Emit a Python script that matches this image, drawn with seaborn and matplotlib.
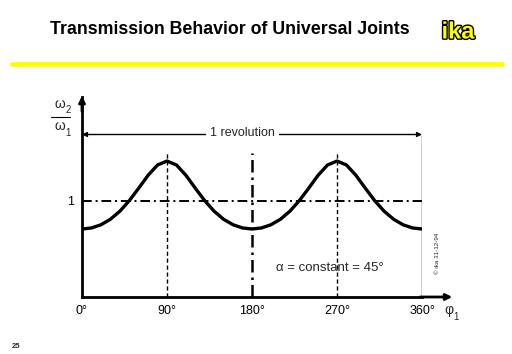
import matplotlib
matplotlib.use("Agg")
import matplotlib.pyplot as plt
import matplotlib.patheffects as pe
import seaborn as sns
import pandas as pd

# shaft angle phi_1 in degrees and read-off speed ratio omega_2 / omega_1
PHI_DEG = [0, 10, 20, 30, 40, 50, 60, 70, 80, 90, 100, 110, 120, 130, 140, 150, 160, 170, 180,
           190, 200, 210, 220, 230, 240, 250, 260, 270, 280, 290, 300, 310, 320, 330, 340, 350, 360]
RATIO = [0.707, 0.718, 0.751, 0.808, 0.891, 1.001, 1.131, 1.266, 1.373, 1.414, 1.373, 1.266,
         1.131, 1.001, 0.891, 0.808, 0.751, 0.718, 0.707, 0.718, 0.751, 0.808, 0.891, 1.001,
         1.131, 1.266, 1.373, 1.414, 1.373, 1.266, 1.131, 1.001, 0.891, 0.808, 0.751, 0.718, 0.707]
X_TICKS = [0, 90, 180, 270, 360]
X_TICK_LABELS = ["0°", "90°", "180°", "270°", "360°"]
REVOLUTION_LEVEL = 1.69
GUIDE_TOP = 1.5

sns.set_theme(style="white")
plt.rcParams["font.family"] = ["Liberation Sans", "DejaVu Sans"]

fig = plt.figure(figsize=(5.12, 3.54), dpi=100)
ax = fig.add_axes([82 / 512, 57 / 354, 340 / 512, 200 / 354])

df = pd.DataFrame({"phi": PHI_DEG, "ratio": RATIO})
sns.lineplot(data=df, x="phi", y="ratio", ax=ax, color="black", linewidth=2.4)

ax.set_xlim(0, 360)
ax.set_ylim(0, 2.08)
for side in ["top", "right"]:
    ax.spines[side].set_visible(False)
for side in ["left", "bottom"]:
    ax.spines[side].set_linewidth(2)
    ax.spines[side].set_color("black")
ax.set_xlabel("")
ax.set_ylabel("")
ax.set_xticks(X_TICKS, X_TICK_LABELS)
ax.set_yticks([1], ["1"])
ax.tick_params(length=0, labelsize=9, pad=6, labelcolor="black")

# axis arrows
ax.annotate("", xy=(395, 0), xytext=(355, 0), annotation_clip=False,
            arrowprops=dict(arrowstyle="-|>", color="black", lw=2, mutation_scale=9))
ax.annotate("", xy=(0, 2.12), xytext=(0, 1.9), annotation_clip=False,
            arrowprops=dict(arrowstyle="-|>", color="black", lw=2, mutation_scale=9))

# reference lines
ax.axhline(1, color="black", lw=1.4, ls=(0, (5, 2, 1, 2)))
ax.plot([90, 90], [0, GUIDE_TOP], color="black", lw=1, ls=(0, (3, 2)))
ax.plot([270, 270], [0, GUIDE_TOP], color="black", lw=1, ls=(0, (3, 2)))
ax.plot([180, 180], [0, GUIDE_TOP], color="black", lw=1.8, ls=(0, (5, 2, 1, 2)))
ax.plot([360, 360], [0, REVOLUTION_LEVEL], color="black", lw=1)

# one revolution marker
ax.annotate("", xy=(360, REVOLUTION_LEVEL), xytext=(0, REVOLUTION_LEVEL),
            arrowprops=dict(arrowstyle="<|-|>", color="black", lw=1, mutation_scale=7,
                            shrinkA=0, shrinkB=0))
ax.text(170, REVOLUTION_LEVEL + 0.02, "1 revolution", ha="center", va="center", fontsize=9,
        bbox=dict(facecolor="white", edgecolor="none", pad=3))

ax.text(262, 0.30, "α = constant = 45°", ha="center", va="center", fontsize=9.5)

# axis labels
ax.text(389, -0.14, "φ", ha="center", va="center", fontsize=10, clip_on=False)
ax.text(396, -0.21, "1", ha="center", va="center", fontsize=7, clip_on=False)
ax.text(-23, 2.01, "ω", ha="center", va="center", fontsize=10, clip_on=False)
ax.text(-15, 1.95, "2", ha="center", va="center", fontsize=7, clip_on=False)
ax.plot([-33, -13], [1.87, 1.87], color="black", lw=0.8, clip_on=False)
ax.text(-23, 1.78, "ω", ha="center", va="center", fontsize=10, clip_on=False)
ax.text(-15, 1.71, "1", ha="center", va="center", fontsize=7, clip_on=False)

ax.text(376, 0.45, "© ika 31-12-94", rotation=90, ha="center", va="center", fontsize=4.5)

# header
fig.text(230 / 512, 1 - 30 / 354, "Transmission Behavior of Universal Joints",
         ha="center", va="center", fontsize=12.8, fontweight="bold", color="black")
fig.text(458 / 512, 1 - 32 / 354, "ika", ha="center", va="center", fontsize=17,
         fontweight="bold", color="#ffff00",
         path_effects=[pe.withStroke(linewidth=2, foreground="black")])
fig.add_artist(plt.Line2D([12 / 512, 502 / 512], [1 - 64 / 354, 1 - 64 / 354],
                          color="#ffff00", lw=3.5))
fig.text(12 / 512, 1 - 346 / 354, "25", ha="left", va="center", fontsize=5.5,
         fontweight="bold")

fig.savefig("out.png", dpi=100)
